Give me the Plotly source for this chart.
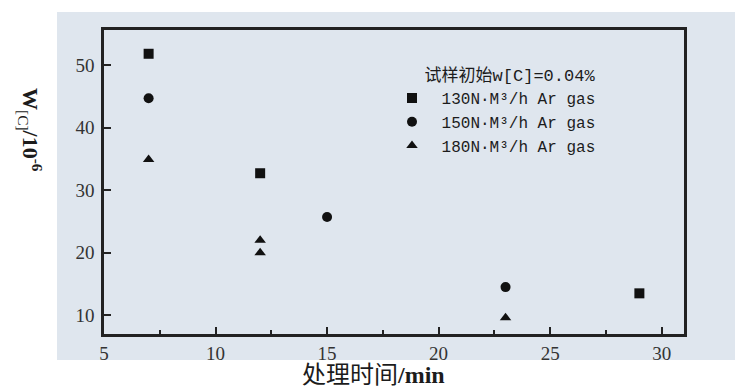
import plotly.graph_objects as go

# Data
x_130 = [7, 12, 29]
y_130 = [51.8, 32.7, 13.5]
x_150 = [7, 15, 23]
y_150 = [44.7, 25.7, 14.5]
x_180 = [7, 12, 12, 23]
y_180 = [34.9, 22.0, 20.0, 9.6]

names = [" 130N·M³/h Ar gas", " 150N·M³/h Ar gas", " 180N·M³/h Ar gas"]
legend_title = "   试样初始w[C]=0.04%"
x_ticks = [5, 10, 15, 20, 25, 30]
y_ticks = [10, 20, 30, 40, 50]

BG = "#dfe6ee"
INK = "#1c1c1c"
SERIF = "Liberation Serif, Noto Sans CJK SC"
MONO = "Liberation Mono, Noto Sans CJK SC"

fig = go.Figure()
for xs, ys, nm, sym in [(x_130, y_130, names[0], "square"),
                        (x_150, y_150, names[1], "circle"),
                        (x_180, y_180, names[2], "triangle-up")]:
    fig.add_trace(go.Scatter(x=xs, y=ys, mode="markers", name=nm,
                             marker=dict(symbol=sym, size=10, color="#111111")))

# page has an 8px body margin; work in reference-pixel coordinates
O = 8
W, H = 743 - O, 391 - O
L, R, T, B = 104 - O, 684 - O, 30 - O, 334 - O
pw, ph = R - L, B - T

def px(x):
    return (x - O - L) / pw

def py(y):
    return (B - (y - O)) / ph

fig.update_layout(
    width=W, height=H,
    margin=dict(l=L, r=W - R, t=T, b=H - B, pad=0),
    paper_bgcolor="white",
    plot_bgcolor=BG,
    showlegend=True,
    legend=dict(
        x=px(392), y=py(59), xanchor="left", yanchor="top",
        bgcolor="rgba(0,0,0,0)",
        font=dict(family=MONO, size=16, color=INK),
        title=dict(text=legend_title, font=dict(family=MONO, size=17, color=INK)),
        itemwidth=30, tracegroupgap=0,
    ),
    shapes=[dict(type="rect", xref="paper", yref="paper",
                 x0=px(57), x1=px(743), y0=py(360), y1=py(12),
                 fillcolor=BG, line=dict(width=0), layer="below")],
    annotations=[
        dict(text="<b>W</b><sub>[C]</sub><b>/10</b><sup><b>-6</b></sup>",
             xref="paper", yref="paper", x=px(31), y=py(130),
             xanchor="center", yanchor="middle",
             showarrow=False, textangle=90,
             font=dict(family=SERIF, size=22, color=INK)),
        dict(text="处理时间<b>/min</b>",
             xref="paper", yref="paper", x=px(373), y=py(375),
             xanchor="center", yanchor="middle",
             showarrow=False,
             font=dict(family=SERIF, size=24, color=INK)),
    ],
)

fig.update_xaxes(range=[5, 31], tickvals=x_ticks, ticks="inside", ticklen=7,
                 tickwidth=2, tickcolor="#222", showline=True, linewidth=2.5,
                 linecolor="#222", mirror=True, showgrid=False, zeroline=False,
                 tickfont=dict(family=SERIF, size=19, color="#333"),
                 minor=dict(tickvals=[7.5, 12.5, 17.5, 22.5, 27.5], ticks="inside",
                            ticklen=4, tickwidth=2, tickcolor="#222"))
fig.update_yaxes(range=[7, 55.6], tickvals=y_ticks, ticks="inside", ticklen=7,
                 tickwidth=2, tickcolor="#222", showline=True, linewidth=2.5,
                 linecolor="#222", mirror=True, showgrid=False, zeroline=False,
                 ticklabelstandoff=3,
                 tickfont=dict(family=SERIF, size=19, color="#333"))

fig.write_html("out.html")
